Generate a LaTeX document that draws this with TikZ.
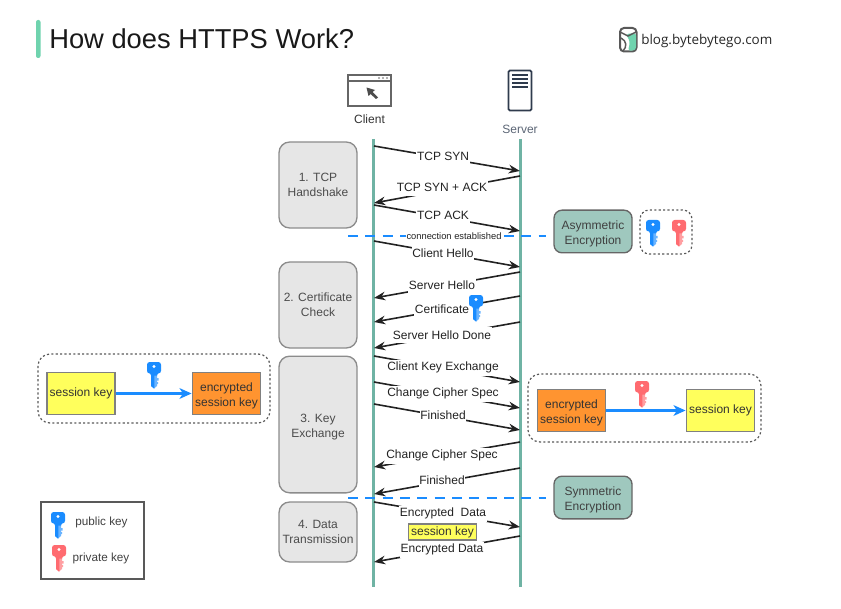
\documentclass[tikz,border=0pt]{standalone}
\usepackage{fontspec}
\setmainfont{Liberation Sans}
\newfontfamily\logofont{Open Sans}
\usetikzlibrary{arrows.meta,positioning}
\definecolor{lifeteal}{HTML}{6FB3A4}
\definecolor{titlegreen}{HTML}{6FD3AE}
\definecolor{phasegray}{HTML}{E6E6E6}
\definecolor{encteal}{HTML}{9FC8BE}
\definecolor{keyblue}{HTML}{1A8CFF}
\definecolor{keyred}{HTML}{FF6B70}
\definecolor{skyellow}{HTML}{FFFF5C}
\definecolor{skorange}{HTML}{FF9430}
\definecolor{ink}{HTML}{222222}
\definecolor{servergray}{HTML}{5B6575}
\definecolor{servericon}{HTML}{2F3B4D}
\newcommand{\lowerA}{\rule{0pt}{10pt}}
\newcommand{\lowerB}{\rule{0pt}{10.5pt}}
\tikzset{
  lifeline/.style={draw=lifeteal,line width=2.3pt},
  msg/.style={draw=ink,line width=1.2pt,-{Stealth[length=8.5pt,width=6.5pt]}},
  msgtext/.style={fill=white,inner xsep=0.6pt,inner ysep=0pt,minimum height=12pt,yshift=-0.5pt,font=\fontsize{9}{9}\selectfont,text=ink},
  phase/.style={draw=gray!90,line width=1pt,fill=phasegray,rounded corners=8pt,align=center,
    font=\fontsize{9}{11}\selectfont,text=black!70,inner sep=0pt},
  enc/.style={draw=black!60,line width=1pt,fill=encteal,rounded corners=6pt,align=center,
    font=\fontsize{9}{11}\selectfont,text=black!75,inner sep=0pt},
  sk/.style={draw=black!50,line width=0.9pt,fill=skyellow,align=center,
    font=\fontsize{9}{11}\selectfont,text=black!80,inner sep=0pt},
  esk/.style={draw=black!50,line width=0.9pt,fill=skorange,align=center,
    font=\fontsize{9}{11}\selectfont,text=black!80,inner sep=0pt},
  dotbox/.style={draw=black!65,line width=0.9pt,dash pattern=on 1.6pt off 1.7pt,rounded corners=9pt},
  sep/.style={draw=keyblue,line width=1.1pt,dash pattern=on 7.5pt off 5.5pt},
  conv/.style={draw=keyblue,line width=1.6pt,-{Stealth[length=9pt,width=8pt,inset=2.5pt]}},
  pics/keyicon/.style={code={
    \fill[#1!65!white] (-3,-3) -- (3,-3) -- (3,11) -- (0,13.5) -- (-3,11) -- cycle;
    \fill[#1] (-3,-3) -- (0.3,-3) -- (0.3,13.2) -- (0,13.5) -- (-3,11) -- cycle;
    \fill[#1!65!white] (2,3) rectangle (4.6,5.5) (2,7) rectangle (4.2,9);
    \fill[#1,rounded corners=2pt] (-7,-13) rectangle (7,-1.5);
    \fill[#1] (-4.5,-3) -- (4.5,-3) -- (3,0.5) -- (-3,0.5) -- cycle;
    \fill[white] (0,-8.5) circle[radius=1.6];
  }},
}
\begin{document}
\begin{tikzpicture}[x=0.75pt,y=-0.75pt]
\useasboundingbox (0,0) rectangle (841,609);
% title
\fill[titlegreen,rounded corners=1.5pt] (36,20) rectangle (40.5,58);
\node[anchor=west,inner sep=0pt,font=\fontsize{20.5}{21}\selectfont,text=black!90] (title) at (49,38.5) {How does HTTPS Work?};
% logo
\draw[draw=black!65,line width=1.5pt,rounded corners=3pt] (620,28) rectangle (636.5,51.5);
\fill[titlegreen,rounded corners=2pt] (626,34) -- (636,33) -- (636,50) -- (628,51) -- (630,42) -- cycle;
\draw[black!65,line width=1.1pt] (620,32) -- (628,36) -- (636,32);
\draw[black!65,line width=1.1pt] (621,38) .. controls (627,41) and (627,47) .. (623,51);
\node[anchor=west,inner sep=0pt,font=\logofont\fontsize{10.1}{10}\selectfont,text=black!85] (logo) at (641,41) {blog.bytebytego.com};
% client icon
\draw[black!60,line width=0.9pt] (348,75) rectangle (391,106);
\draw[black!60,line width=0.8pt] (348,81) -- (391,81);
\fill[black!60] (379,78) circle[radius=0.8] (383,78) circle[radius=0.8] (387,78) circle[radius=0.8];
\fill[black!70] (366.5,87.5) -- (375,90) -- (372.5,92) -- (378,97.5) -- (376,99) -- (370.5,94) -- (368.5,96) -- cycle;
\node[font=\fontsize{9}{9}\selectfont,text=black!80] (client) at (369.5,119) {Client};
% server icon
\draw[servericon,line width=1.3pt,rounded corners=1pt] (508.5,70.5) rectangle (531.5,110.5);
\foreach \yy in {75,79,83,87}{\draw[servericon,line width=1pt] (512,\yy) -- (528,\yy);}
\node[font=\fontsize{9}{9}\selectfont,text=servergray] (server) at (520,129) {Server};
% lifelines
\coordinate (ct) at (373.5,139); \coordinate (cb) at (373.5,587);
\coordinate (st) at (520.5,139); \coordinate (sb) at (520.5,587);
\draw[lifeline] (ct) -- (cb);
\draw[lifeline] (st) -- (sb);
% phases
\node[phase,minimum width=58.5pt,minimum height=64.5pt] (p1) at (318,185) {1. TCP\\Handshake};
\node[phase,minimum width=58.5pt,minimum height=64.5pt] (p2) at (318,305) {2. Certificate\\Check};
\node[phase,minimum width=58.5pt,minimum height=102.5pt] (p3) at (318,424.5) {\lowerB 3. Key\\Exchange};
\node[phase,minimum width=58.5pt,minimum height=45pt] (p4) at (318,532) {4. Data\\Transmission};
% message end points
\foreach \n/\yc/\ys in {a/146/171,c/205/231,d/241/267,h/356/382,i/382/408,j/404/430,m/502/527}{
  \coordinate (\n L) at (374,\yc); \coordinate (\n R) at (520,\ys);}
\foreach \n/\ys/\yc in {b/176/203,e/272/298,f/296/322,g/322/348,k/442/467,l/468/494,n/536/562}{
  \coordinate (\n R) at (520,\ys); \coordinate (\n L) at (374,\yc);}
% separators
\coordinate (sepaL) at (348,236); \coordinate (sepaR) at (546,236);
\coordinate (sepbL) at (348,498); \coordinate (sepbR) at (546,498);
\draw[sep] (sepaL) -- (sepaR);
\draw[sep] (sepbL) -- (sepbR);
% messages
\foreach \n in {a,c,d,h,i,j,m}{\draw[msg] (\n L) -- (\n R);}
\foreach \n in {b,e,f,g,k,l,n}{\draw[msg] (\n R) -- (\n L);}
\node[msgtext] (ma) at (443,156) {TCP SYN};
\node[msgtext] (mb) at (442,187) {TCP SYN + ACK};
\node[msgtext] (mc) at (443,215) {TCP ACK};
\node[msgtext,minimum height=0pt,inner ysep=0.6pt,yshift=0.5pt,font=\fontsize{7}{7}\selectfont] (conn) at (454,236) {connection established};
\node[msgtext] (md) at (443,253) {Client Hello};
\node[msgtext] (me) at (442,285) {Server Hello};
\node[msgtext] (mf) at (442,309) {Certificate};
\node[msgtext] (mg) at (442,334.5) {Server Hello Done};
\node[msgtext] (mh) at (443,367) {Client Key Exchange};
\node[msgtext] (mi) at (443,393) {Change Cipher Spec};
\node[msgtext] (mj) at (443,415) {Finished};
\node[msgtext] (mk) at (442,455) {Change Cipher Spec};
\node[msgtext] (ml) at (442,480) {Finished};
\node[msgtext] (mm) at (443,513) {Encrypted~~Data};
\node[msgtext] (mn) at (442,549) {Encrypted Data};
\node[sk,minimum width=51pt,minimum height=12pt] (sk0) at (442.5,532) {session key};
\pic at (476,308) {keyicon=keyblue};
% encryption labels
\node[enc,minimum width=58.5pt,minimum height=32pt] (asym) at (593,231.5) {\lowerA Asymmetric\\Encryption};
\node[enc,minimum width=58.5pt,minimum height=32pt] (sym) at (593,497.5) {\lowerA Symmetric\\Encryption};
\draw[dotbox,rounded corners=7pt] (640,210) rectangle (692,254);
\pic at (653,233) {keyicon=keyblue};
\pic at (679,233) {keyicon=keyred};
% left conversion
\draw[dotbox] (38,354) rectangle (270,423);
\node[sk,minimum width=51pt,minimum height=32pt] (skl) at (81,393.5) {session key};
\node[esk,minimum width=51.5pt,minimum height=32pt] (eskl) at (226.5,393.5) {\lowerA encrypted\\session key};
\draw[conv] (skl) -- (eskl);
\pic at (154,375) {keyicon=keyblue};
% right conversion
\draw[dotbox] (528,374) rectangle (761,442);
\node[esk,minimum width=51.5pt,minimum height=32pt] (eskr) at (571.5,410.5) {\lowerA encrypted\\session key};
\node[sk,minimum width=51.5pt,minimum height=32pt] (skr) at (720.5,410.5) {session key};
\draw[conv] (eskr) -- (skr);
\pic at (642,394) {keyicon=keyred};
% legend
\draw[black!65,line width=1.1pt] (41,502) rectangle (144,579);
\pic at (58,525) {keyicon=keyblue};
\pic at (59,558) {keyicon=keyred};
\node[font=\fontsize{8.8}{9}\selectfont,text=black!75] (pub) at (101.5,522) {public key};
\node[font=\fontsize{8.8}{9}\selectfont,text=black!75] (priv) at (101,558) {private key};
\end{tikzpicture}
\end{document}
